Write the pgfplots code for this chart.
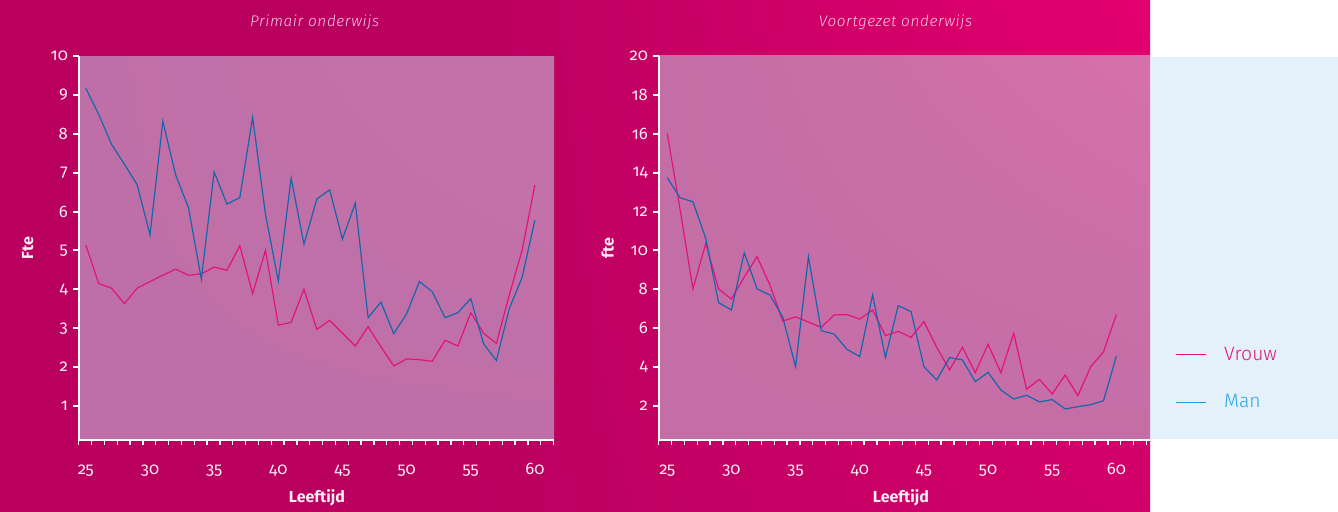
\documentclass[border=0pt]{standalone}
\usepackage{pgfplots}
\pgfplotsset{compat=1.18}
\usetikzlibrary{shadings}
\usepackage{fontspec}
\setmainfont{Fira Sans}[Numbers=OldStyle]
\newfontfamily\titlefont{Fira Sans Light}[Numbers=OldStyle,LetterSpace=4]
\newfontfamily\legfont{Fira Sans Light}

\definecolor{bgdark}{RGB}{185,0,95}
\definecolor{bgbrhi}{RGB}{228,0,111}
\definecolor{bgbrlo}{RGB}{210,0,106}
\definecolor{plotLa}{RGB}{191,111,167}
\definecolor{plotLb}{RGB}{196,114,170}
\definecolor{plotRa}{RGB}{195,110,166}
\definecolor{plotRb}{RGB}{214,112,172}
\definecolor{legbg}{RGB}{228,241,250}
\definecolor{vrouw}{RGB}{226,20,122}
\definecolor{man}{RGB}{22,102,170}
\definecolor{manleg}{RGB}{30,158,220}
\definecolor{mantext}{RGB}{42,168,224}
\definecolor{labelc}{RGB}{250,235,244}
\definecolor{titlec}{RGB}{242,205,228}

\pgfplotstableread{
age v m
25 5.14 9.17
26 4.15 8.50
27 4.03 7.73
28 3.63 7.22
29 4.03 6.69
30 4.20 5.40
31 4.36 8.32
32 4.52 6.94
33 4.36 6.10
34 4.40 4.26
35 4.57 7.02
36 4.49 6.19
37 5.12 6.36
38 3.89 8.42
39 5.00 5.93
40 3.08 4.21
41 3.15 6.86
42 4.00 5.16
43 2.97 6.32
44 3.20 6.56
45 2.87 5.29
46 2.54 6.22
47 3.04 3.27
48 2.52 3.67
49 2.03 2.86
50 2.21 3.37
51 2.19 4.20
52 2.15 3.94
53 2.69 3.27
54 2.54 3.40
55 3.40 3.76
56 2.87 2.60
57 2.61 2.17
58 3.85 3.50
59 5.00 4.30
60 6.68 5.78
}\primair

\pgfplotstableread{
age v m
25 16.02 13.74
26 12.10 12.71
27 8.02 12.50
28 10.36 10.62
29 8.02 7.31
30 7.50 6.94
31 8.63 9.88
32 9.68 8.02
33 8.22 7.71
34 6.37 6.56
35 6.58 4.02
36 6.32 9.68
37 6.04 5.87
38 6.68 5.70
39 6.70 4.91
40 6.47 4.54
41 6.94 7.71
42 5.62 4.50
43 5.84 7.16
44 5.53 6.85
45 6.34 4.02
46 5.02 3.34
47 3.85 4.49
48 5.02 4.37
49 3.71 3.25
50 5.17 3.73
51 3.71 2.82
52 5.74 2.36
53 2.86 2.55
54 3.37 2.21
55 2.62 2.33
56 3.59 1.85
57 2.53 1.96
58 4.02 2.07
59 4.79 2.27
60 6.71 4.57
}\voortgezet

\pgfplotsset{
  panel/.style={
    scale only axis, height=288pt,
    axis x line*=bottom, axis y line*=left,
    axis line style={white, line width=1.5pt},
    tick align=outside,
    major tick length=4pt, minor tick length=3.5pt,
    major tick style={white, line width=1.5pt},
    minor tick style={white, line width=1pt},
    major x tick style={draw=none},
    xtick={25,30,...,60},
    /pgf/number format/assume math mode=true,
    xticklabel style={font=\fontsize{12.5}{14}\selectfont, text=labelc, anchor=base, yshift=-22pt},
    yticklabel style={font=\fontsize{12.5}{14}\selectfont, text=labelc, anchor=east, inner sep=0pt, xshift=-4pt},
    xlabel={Leeftijd},
    xlabel style={font=\bfseries\fontsize{12}{14}\selectfont, text=labelc, anchor=center},
    ylabel style={font=\bfseries\fontsize{12}{14}\selectfont, text=labelc, anchor=center},
    title style={font=\titlefont\itshape\fontsize{11.5}{13}\selectfont, text=titlec, anchor=center, yshift=-6pt},
  },
  vline/.style={vrouw, line width=0.9pt},
  mline/.style={man, line width=0.9pt},
}

\begin{document}
\begin{tikzpicture}[x=0.75pt,y=0.75pt]
\fill[white] (0,0) rectangle (1338,511);
\fill[bgdark] (-3,-3) rectangle (452,514);
\shade[lower left=bgdark, upper left=bgdark, lower right=bgbrlo, upper right=bgbrhi] (450,-3) rectangle (1150,514);
\fill[legbg] (1150,72) rectangle (1338,454);

\begin{axis}[panel,
  at={(59.1pt,53.25pt)}, anchor=south west, width=356.5pt,
  xmin=24.45, xmax=61.5, ymin=0.125, ymax=10,
  minor xtick={24.45,25.45,...,61.5},
  ytick={1,...,10},
  axis background/.style={shade, lower left=plotLa, upper left=plotLa, lower right=plotLa, upper right=plotLb},
  ylabel={Fte},
  xlabel style={at={(axis description cs:0.501,-0.151)}},
  ylabel style={at={(axis description cs:-0.1075,0.5)}},
  title={Primair onderwijs},
  title style={at={(axis description cs:0.496,1.089)}},
]
\addplot[vline] table[x=age,y=v] {\primair};
\addplot[mline] table[x=age,y=m] {\primair};
\end{axis}

\begin{axis}[panel,
  at={(494.1pt,53.25pt)}, anchor=south west, width=368.4pt,
  xmin=24.34, xmax=62.62, ymin=0.25, ymax=20,
  minor xtick={24.34,25.34,...,62.4},
  ytick={2,4,...,20},
  axis background/.style={shade, lower left=plotRa, upper left=plotRa, lower right=plotRa, upper right=plotRb},
  ylabel={fte},
  xlabel style={at={(axis description cs:0.493,-0.151)}},
  ylabel style={at={(axis description cs:-0.104,0.5)}},
  title={Voortgezet onderwijs},
  title style={at={(axis description cs:0.482,1.089)}},
  legend style={at={(axis description cs:1.044,0.160)}, anchor=west, draw=none, fill=none,
    font=\legfont\fontsize{14.5}{16}\selectfont, row sep=24pt, column sep=13pt, nodes={inner sep=0pt}},
  legend cell align=left,
  legend image code/.code={\draw[#1] (0pt,0pt) -- (22.5pt,0pt);},
]
\addplot[vline, forget plot] table[x=age,y=v] {\voortgezet};
\addplot[mline, forget plot] table[x=age,y=m] {\voortgezet};
\addlegendimage{draw=vrouw, line width=0.75pt}
\addlegendentry{\textcolor{vrouw}{Vrouw}}
\addlegendimage{draw=manleg, line width=0.75pt}
\addlegendentry{\textcolor{mantext}{Man}}
\end{axis}
\pgfresetboundingbox
\path[use as bounding box] (0,0) rectangle (1338,511);
\end{tikzpicture}
\end{document}
